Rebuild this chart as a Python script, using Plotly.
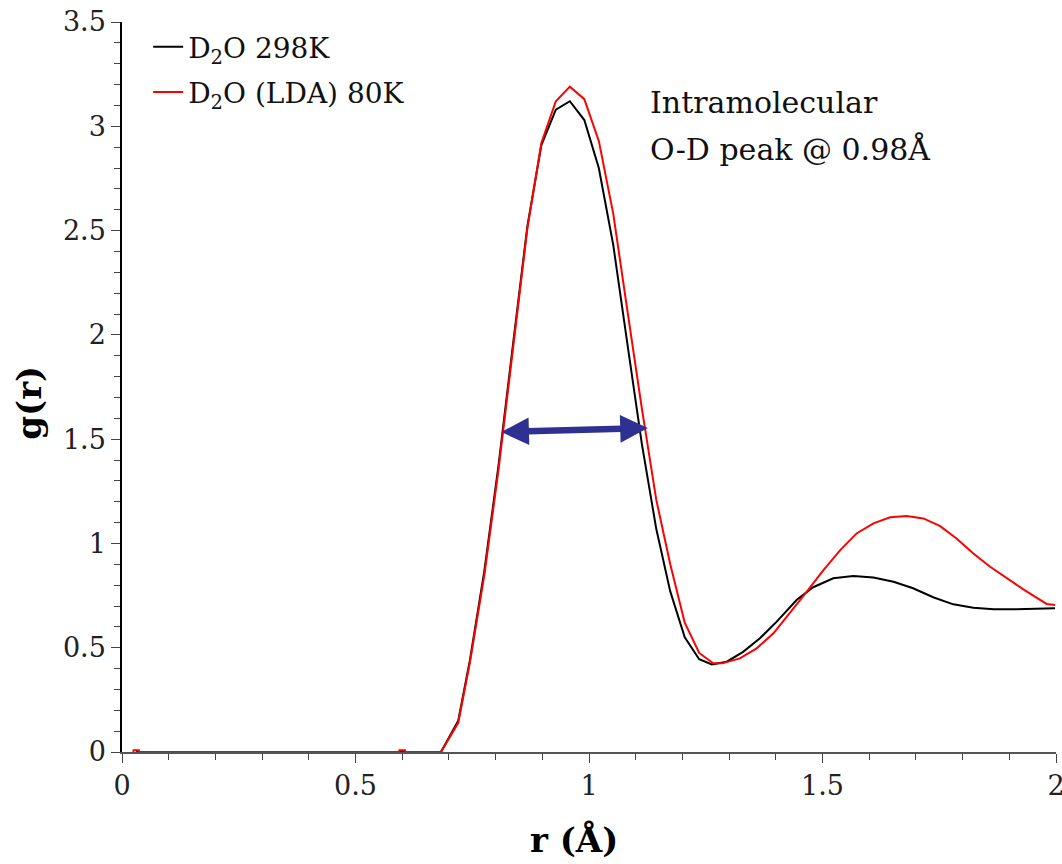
import plotly.graph_objects as go

# ---- data ----
r_298 = [0.030, 0.683, 0.720, 0.745, 0.776, 0.806, 0.837, 0.868, 0.898, 0.929, 0.959,
         0.990, 1.021, 1.052, 1.082, 1.113, 1.144, 1.174, 1.205, 1.236, 1.263, 1.295,
         1.330, 1.366, 1.402, 1.445, 1.480, 1.523, 1.566, 1.609, 1.652, 1.694, 1.737,
         1.780, 1.823, 1.866, 1.909, 1.951, 1.998]
g_298 = [0.0, 0.0, 0.15, 0.44, 0.87, 1.37, 1.95, 2.52, 2.91, 3.08, 3.12,
         3.03, 2.80, 2.43, 1.96, 1.48, 1.07, 0.77, 0.55, 0.445, 0.42, 0.433,
         0.48, 0.545, 0.625, 0.73, 0.79, 0.833, 0.844, 0.837, 0.816, 0.785, 0.742,
         0.708, 0.692, 0.684, 0.684, 0.687, 0.689]

r_lda = [0.024, 0.025, 0.036, 0.037, 0.593, 0.594, 0.606, 0.607, 0.683, 0.720, 0.745,
         0.776, 0.806, 0.837, 0.868, 0.898, 0.929, 0.959, 0.990, 1.021, 1.052, 1.082,
         1.113, 1.144, 1.174, 1.205, 1.236, 1.266, 1.285, 1.323, 1.359, 1.395, 1.430,
         1.466, 1.502, 1.538, 1.573, 1.609, 1.645, 1.680, 1.716, 1.752, 1.787, 1.823,
         1.859, 1.894, 1.930, 1.966, 1.980, 1.998]
g_lda = [0.0, 0.008, 0.008, 0.0, 0.0, 0.008, 0.008, 0.0, 0.0, 0.14, 0.43,
         0.85, 1.35, 1.93, 2.51, 2.92, 3.12, 3.19, 3.13, 2.93, 2.58, 2.12,
         1.65, 1.21, 0.90, 0.62, 0.475, 0.425, 0.425, 0.449, 0.497, 0.569, 0.665,
         0.768, 0.872, 0.968, 1.048, 1.096, 1.125, 1.131, 1.12, 1.083, 1.024, 0.952,
         0.888, 0.833, 0.78, 0.729, 0.71, 0.705]

series_names = ["D<sub>2</sub>O 298K", "D<sub>2</sub>O (LDA) 80K"]
series_colors = ["#000000", "#ff0000"]

x_tick_vals = [0, 0.5, 1, 1.5, 2]
x_tick_text = ["0", "0.5", "1", "1.5", "2"]
y_tick_vals = [0, 0.5, 1, 1.5, 2, 2.5, 3, 3.5]
y_tick_text = ["0", "0.5", "1", "1.5", "2", "2.5", "3", "3.5"]

fwhm_left = (0.809, 1.534)
fwhm_right = (1.126, 1.553)

FONT = "DejaVu Serif"

fig = go.Figure()
fig.add_trace(go.Scatter(x=r_298, y=g_298, mode="lines", name=series_names[0],
                         legendgroup="a",
                         line=dict(color=series_colors[0], width=2)))
fig.add_trace(go.Scatter(x=r_lda, y=g_lda, mode="lines", name=series_names[1],
                         legendgroup="b",
                         line=dict(color=series_colors[1], width=2)))

fig.update_layout(
    width=1062, height=864, autosize=False,
    margin=dict(l=122, r=6, t=22, b=112),
    paper_bgcolor="white", plot_bgcolor="white",
    font=dict(family=FONT, color="#222222", size=27),
    showlegend=True,
    legend=dict(x=0.028, y=1.0, xanchor="left", yanchor="top",
                font=dict(family=FONT, size=28, color="#111111"),
                bgcolor="rgba(0,0,0,0)", tracegroupgap=6, itemwidth=30),
    xaxis=dict(range=[0, 2], tickmode="array", tickvals=x_tick_vals, ticktext=x_tick_text,
               showgrid=False, zeroline=False, showline=True, linecolor="#555555", linewidth=1.5,
               ticks="outside", ticklen=9, tickwidth=1.3, tickcolor="#444444",
               ticklabeloverflow="allow", automargin=False,
               minor=dict(dtick=0.1, ticks="outside", ticklen=6, tickwidth=1, tickcolor="#444444"),
               tickfont=dict(family=FONT, size=27, color="#222222")),
    yaxis=dict(range=[0, 3.5], tickmode="array", tickvals=y_tick_vals, ticktext=y_tick_text,
               showgrid=False, zeroline=False, showline=True, linecolor="#000000", linewidth=1.5,
               ticks="outside", ticklen=9, tickwidth=1.3, tickcolor="#444444",
               automargin=False,
               minor=dict(dtick=0.1, ticks="outside", ticklen=6, tickwidth=1, tickcolor="#444444"),
               tickfont=dict(family=FONT, size=27, color="#222222")),
)

# axis titles
fig.add_annotation(text="<b>r (Å)</b>", xref="paper", yref="paper", x=0.484, y=-0.12,
                   xanchor="center", yanchor="middle", showarrow=False,
                   font=dict(family=FONT, size=34, color="#000000"))
fig.add_annotation(text="<b>g(r)</b>", xref="paper", yref="paper", x=-0.1, y=0.478,
                   xanchor="center", yanchor="middle", showarrow=False, textangle=-90,
                   font=dict(family=FONT, size=34, color="#000000"))

# text annotation
fig.add_annotation(text="Intramolecular", xref="x", yref="y", x=1.126, y=3.115,
                   xanchor="left", yanchor="middle", showarrow=False,
                   font=dict(family=FONT, size=30, color="#111111"))
fig.add_annotation(text="O-D peak @ 0.98Å", xref="x", yref="y", x=1.126, y=2.89,
                   xanchor="left", yanchor="middle", showarrow=False,
                   font=dict(family=FONT, size=30, color="#111111"))

# double-headed FWHM arrow
fig.add_annotation(text="", x=fwhm_right[0], y=fwhm_right[1], xref="x", yref="y",
                   ax=fwhm_left[0], ay=fwhm_left[1], axref="x", ayref="y",
                   showarrow=True, arrowhead=2, arrowside="end+start", arrowsize=0.85,
                   arrowwidth=6.5, arrowcolor="#2e3192", standoff=0, startstandoff=0)

fig.write_html("out.html")
